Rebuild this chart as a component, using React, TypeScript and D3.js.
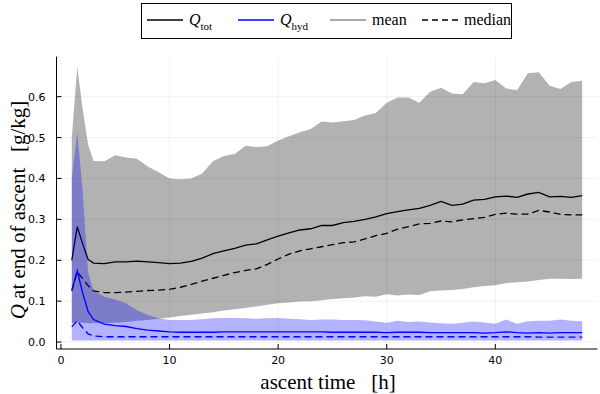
import React, { useEffect, useRef } from 'react';
import * as d3 from 'd3';

// ascent time [h]
const hours = [1, 1.5, 2, 2.5, 3, 4, 5, 6, 7, 8, 9, 10, 11, 12, 13, 14, 15, 16, 17, 18, 19, 20, 21, 22, 23, 24,
    25, 26, 27, 28, 29, 30, 31, 32, 33, 34, 35, 36, 37, 38, 39, 40, 41, 42, 43, 44, 45, 46, 47, 48];

// Q_tot: mean, median and band
const totMean = [0.200, 0.282, 0.240, 0.202, 0.193, 0.192, 0.196, 0.196, 0.198, 0.196, 0.194, 0.192, 0.193, 0.197, 0.205,
    0.216, 0.223, 0.229, 0.237, 0.240, 0.250, 0.259, 0.267, 0.274, 0.277, 0.285, 0.285, 0.292, 0.295, 0.300, 0.306, 0.314,
    0.319, 0.323, 0.327, 0.334, 0.344, 0.334, 0.337, 0.347, 0.349, 0.355, 0.357, 0.354, 0.362, 0.366, 0.355, 0.356, 0.354, 0.358];
const totMedian = [0.125, 0.172, 0.155, 0.138, 0.125, 0.121, 0.121, 0.122, 0.124, 0.126, 0.127, 0.129, 0.134, 0.141, 0.149,
    0.156, 0.163, 0.170, 0.175, 0.179, 0.190, 0.203, 0.215, 0.223, 0.228, 0.233, 0.238, 0.243, 0.245, 0.252, 0.260, 0.266,
    0.276, 0.282, 0.289, 0.290, 0.296, 0.294, 0.299, 0.302, 0.305, 0.312, 0.315, 0.313, 0.313, 0.322, 0.318, 0.312, 0.311, 0.311];
const totLow = [0.047, 0.047, 0.047, 0.046, 0.046, 0.046, 0.047, 0.049, 0.052, 0.054, 0.057, 0.060, 0.064, 0.067, 0.070,
    0.073, 0.077, 0.080, 0.083, 0.087, 0.091, 0.095, 0.097, 0.099, 0.100, 0.102, 0.105, 0.107, 0.109, 0.112, 0.111, 0.117,
    0.114, 0.116, 0.115, 0.124, 0.126, 0.127, 0.130, 0.134, 0.137, 0.139, 0.144, 0.146, 0.148, 0.152, 0.155, 0.155, 0.154, 0.155];
const totHigh = [0.500, 0.673, 0.570, 0.483, 0.443, 0.442, 0.457, 0.451, 0.448, 0.429, 0.415, 0.400, 0.398, 0.400, 0.412,
    0.442, 0.455, 0.460, 0.480, 0.477, 0.479, 0.493, 0.503, 0.513, 0.521, 0.539, 0.537, 0.540, 0.543, 0.554, 0.560, 0.585,
    0.598, 0.598, 0.585, 0.612, 0.622, 0.608, 0.606, 0.636, 0.633, 0.641, 0.620, 0.616, 0.657, 0.660, 0.627, 0.619, 0.636, 0.639];

// Q_hyd: mean, median and band
const hydMean = [0.126, 0.174, 0.120, 0.075, 0.055, 0.044, 0.040, 0.038, 0.033, 0.029, 0.027, 0.025, 0.024, 0.024, 0.024,
    0.024, 0.025, 0.025, 0.025, 0.025, 0.025, 0.025, 0.025, 0.025, 0.025, 0.025, 0.024, 0.024, 0.024, 0.024, 0.024, 0.023,
    0.024, 0.024, 0.024, 0.023, 0.023, 0.023, 0.023, 0.023, 0.022, 0.023, 0.025, 0.023, 0.022, 0.023, 0.022, 0.023, 0.023, 0.023];
const hydMedian = [0.037, 0.052, 0.035, 0.020, 0.015, 0.013, 0.013, 0.013, 0.013, 0.013, 0.013, 0.013, 0.013, 0.013, 0.013,
    0.013, 0.013, 0.013, 0.013, 0.013, 0.013, 0.013, 0.013, 0.013, 0.013, 0.013, 0.013, 0.013, 0.013, 0.013, 0.013, 0.013,
    0.013, 0.013, 0.013, 0.013, 0.013, 0.013, 0.013, 0.013, 0.013, 0.013, 0.013, 0.013, 0.013, 0.012, 0.012, 0.012, 0.012, 0.012];
const hydLow = [0.004, 0.004, 0.004, 0.004, 0.004, 0.004, 0.004, 0.004, 0.004, 0.004, 0.004, 0.004, 0.004, 0.004, 0.004,
    0.004, 0.004, 0.004, 0.004, 0.004, 0.004, 0.004, 0.004, 0.004, 0.004, 0.004, 0.004, 0.004, 0.004, 0.004, 0.004, 0.004,
    0.004, 0.004, 0.004, 0.004, 0.004, 0.004, 0.004, 0.004, 0.004, 0.004, 0.004, 0.004, 0.004, 0.004, 0.004, 0.004, 0.004, 0.004];
const hydHigh = [0.400, 0.513, 0.370, 0.170, 0.125, 0.111, 0.104, 0.095, 0.078, 0.066, 0.058, 0.054, 0.054, 0.054, 0.056,
    0.058, 0.059, 0.059, 0.058, 0.057, 0.058, 0.059, 0.057, 0.056, 0.054, 0.055, 0.055, 0.054, 0.054, 0.053, 0.050, 0.047,
    0.052, 0.049, 0.050, 0.048, 0.046, 0.045, 0.047, 0.050, 0.048, 0.045, 0.055, 0.045, 0.051, 0.052, 0.052, 0.055, 0.052, 0.051];

const xTicks = [0, 10, 20, 30, 40];
const yTicks = [0, 0.1, 0.2, 0.3, 0.4, 0.5, 0.6];

const serif = '"Liberation Serif", "DejaVu Serif", serif';
const sans = '"DejaVu Sans", sans-serif';
const dash = '7,4';

export default function App() {
    const ref = useRef<SVGSVGElement>(null);

    useEffect(() => {
        const svg = d3.select(ref.current);
        svg.selectAll('*').remove();

        const x = d3.scaleLinear().domain([-0.41, 49.41]).range([56.5, 597.5]);
        const y = d3.scaleLinear().domain([-0.017, 0.698]).range([349, 56.6]);
        const [x0, x1] = x.range();
        const [yb, yt] = y.range();

        // grid
        const grid = svg.append('g').attr('stroke', '#000').attr('stroke-opacity', 0.1).attr('stroke-width', 0.6);
        xTicks.forEach(t => grid.append('line').attr('x1', x(t)).attr('x2', x(t)).attr('y1', yb).attr('y2', yt));
        yTicks.forEach(t => grid.append('line').attr('x1', x0).attr('x2', x1).attr('y1', y(t)).attr('y2', y(t)));

        const band = (lo: number[], hi: number[]) => d3.area<number>()
            .x(i => x(hours[i]))
            .y0(i => y(lo[i]))
            .y1(i => y(hi[i]))(hours.map((_, i) => i));
        const line = (vals: number[]) => d3.line<number>()
            .x(i => x(hours[i]))
            .y(i => y(vals[i]))(hours.map((_, i) => i));

        // Q_tot
        svg.append('path').attr('d', band(totLow, totHigh)).attr('fill', '#000').attr('fill-opacity', 0.3);
        svg.append('path').attr('d', line(totMean)).attr('fill', 'none').attr('stroke', '#000').attr('stroke-width', 1.3);
        svg.append('path').attr('d', line(totMedian)).attr('fill', 'none').attr('stroke', '#000').attr('stroke-width', 1.3)
            .attr('stroke-dasharray', dash);

        // Q_hyd
        svg.append('path').attr('d', band(hydLow, hydHigh)).attr('fill', '#0000ff').attr('fill-opacity', 0.3);
        svg.append('path').attr('d', line(hydMean)).attr('fill', 'none').attr('stroke', '#0000ff').attr('stroke-width', 1.3);
        svg.append('path').attr('d', line(hydMedian)).attr('fill', 'none').attr('stroke', '#0000ff').attr('stroke-width', 1.3)
            .attr('stroke-dasharray', dash);

        // axes
        const axes = svg.append('g').attr('stroke', '#000').attr('stroke-width', 1);
        axes.append('line').attr('x1', x0).attr('x2', x0).attr('y1', yb).attr('y2', yt);
        axes.append('line').attr('x1', x0).attr('x2', x1).attr('y1', yb).attr('y2', yb);
        xTicks.forEach(t => axes.append('line').attr('x1', x(t)).attr('x2', x(t)).attr('y1', yb).attr('y2', yb - 5));
        yTicks.forEach(t => axes.append('line').attr('x1', x0).attr('x2', x0 + 5).attr('y1', y(t)).attr('y2', y(t)));

        svg.append('g').selectAll('text').data(xTicks).enter().append('text')
            .attr('x', d => x(d)).attr('y', yb + 15)
            .attr('text-anchor', 'middle').attr('font-family', sans).attr('font-size', 11)
            .text(d => d3.format('d')(d));
        svg.append('g').selectAll('text').data(yTicks).enter().append('text')
            .attr('x', x0 - 11).attr('y', d => y(d) + 4)
            .attr('text-anchor', 'end').attr('font-family', sans).attr('font-size', 11)
            .text(d => d3.format('.1f')(d));

        // axis labels
        svg.append('text').attr('x', 328).attr('y', 389).attr('text-anchor', 'middle')
            .attr('font-family', serif).attr('font-size', 21).attr('xml:space', 'preserve')
            .text('ascent time   [h]');

        const yl = svg.append('text').attr('transform', 'translate(25,' + 210 + ') rotate(-90)')
            .attr('text-anchor', 'middle').attr('font-family', serif).attr('font-size', 21).attr('xml:space', 'preserve');
        yl.append('tspan').attr('font-style', 'italic').text('Q');
        yl.append('tspan').text(' at end of ascent   [g/kg]');

        // legend
        const lg = svg.append('g');
        lg.append('rect').attr('x', 141.5).attr('y', 3.5).attr('width', 370).attr('height', 35)
            .attr('fill', '#fff').attr('stroke', '#000').attr('stroke-width', 1);
        const items = [
            { x: 147, color: '#000', dash: null, main: 'Q', sub: 'tot' },
            { x: 238, color: '#0000ff', dash: null, main: 'Q', sub: 'hyd' },
            { x: 330, color: '#8c8c8c', dash: null, main: 'mean', sub: '' },
            { x: 422, color: '#000', dash: '6,4', main: 'median', sub: '' }
        ];
        items.forEach(it => {
            lg.append('line').attr('x1', it.x).attr('x2', it.x + 36).attr('y1', 20).attr('y2', 20)
                .attr('stroke', it.color).attr('stroke-width', 1.3).attr('stroke-dasharray', it.dash);
            const t = lg.append('text').attr('x', it.x + 42).attr('y', 25).attr('font-family', serif).attr('font-size', 16);
            if (it.sub) {
                t.append('tspan').attr('font-style', 'italic').text(it.main);
                t.append('tspan').attr('font-size', 11).attr('dy', 5).text(it.sub);
            } else {
                t.text(it.main);
            }
        });
    }, []);

    return <svg ref={ref} width={600} height={394} style={{ position: 'absolute', left: 0, top: 0 }} />;
}
